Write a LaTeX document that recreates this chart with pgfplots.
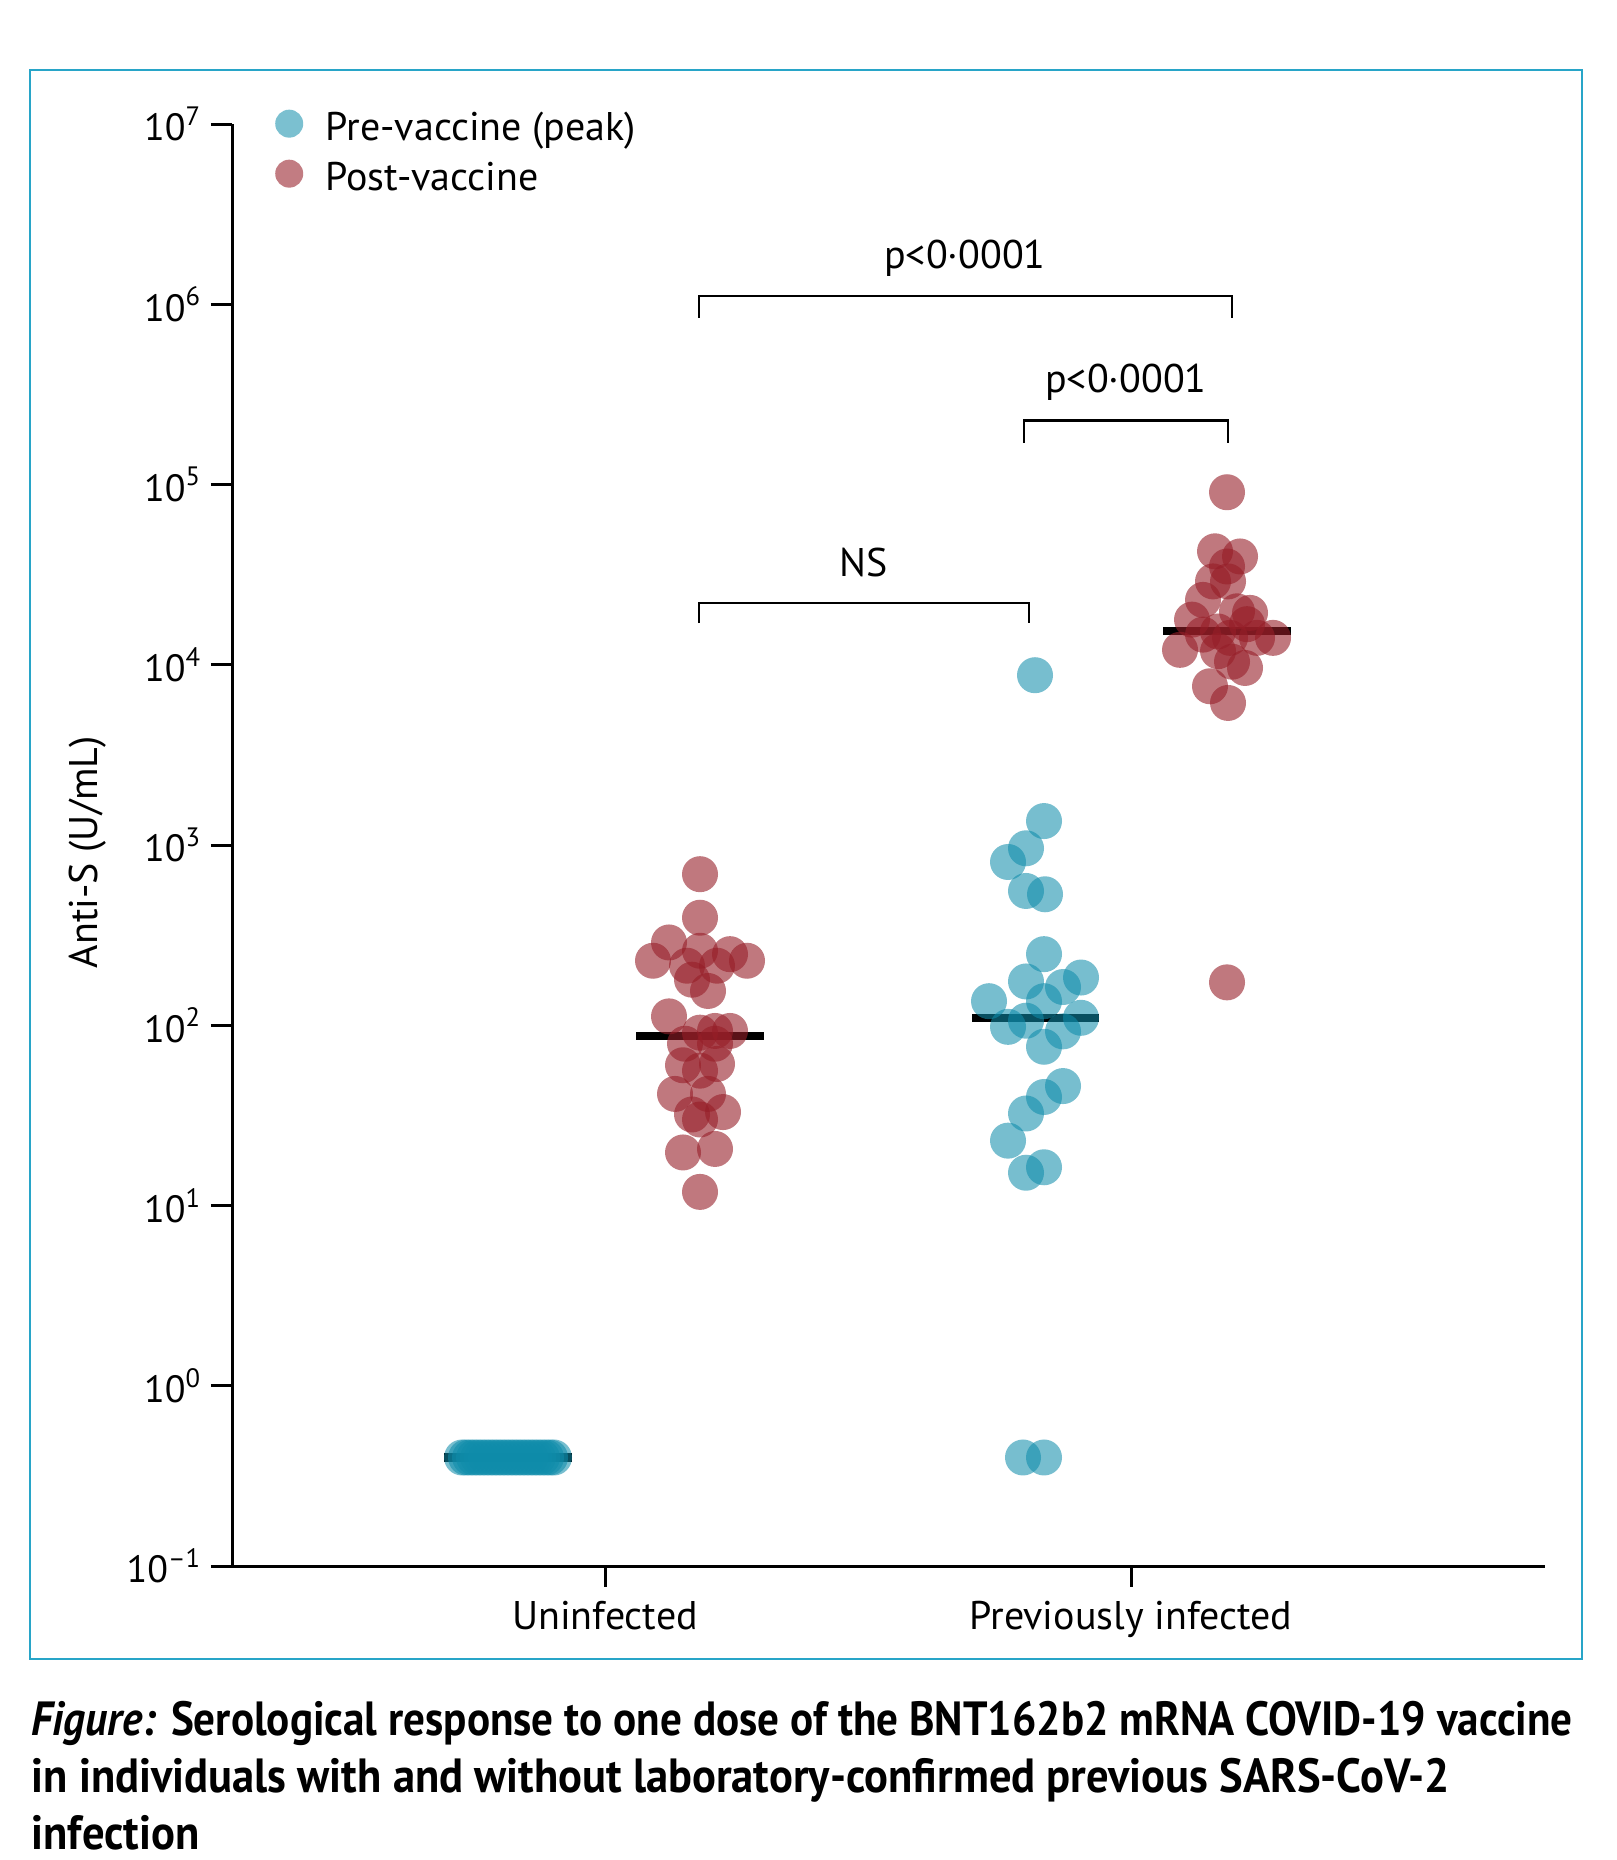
\documentclass[border=0pt]{standalone}
\usepackage{fontspec}
\setmainfont{PT Sans}
\usepackage{graphicx}
\usepackage{pgfplots}
\pgfplotsset{compat=1.18}
\definecolor{preteal}{RGB}{15,140,170}
\definecolor{postred}{RGB}{150,30,40}
\definecolor{framecol}{RGB}{40,165,200}

\begin{document}
\begin{tikzpicture}
\path (0,0) rectangle (404pt,-465pt);
\draw[framecol, line width=0.5pt] (7.5pt,-17.5pt) rectangle (395.5pt,-414.75pt);
\begin{axis}[
  at={(58pt,-391.5pt)}, anchor=south west,
  scale only axis, width=328.25pt, height=360.5pt,
  xmin=232, xmax=1545, ymin=0.1, ymax=1e7,
  ymode=log, log basis y=10,
  clip=false,
  axis x line*=bottom, axis y line*=left,
  axis line style={line width=0.75pt, -},
  tick style={line width=0.75pt, black},
  tick align=outside, major tick length=5.25pt,
  yminorticks=false,
  xtick={605,1131}, xticklabels={Uninfected, Previously infected},
  ytick={1e-1,1,10,100,1000,1e4,1e5,1e6,1e7},
  yticklabels={10\textsuperscript{–1},10\textsuperscript{0},10\textsuperscript{1},10\textsuperscript{2},10\textsuperscript{3},10\textsuperscript{4},10\textsuperscript{5},10\textsuperscript{6},10\textsuperscript{7}},
  yticklabel style={font=\fontsize{9.5}{11}\selectfont, xshift=1.3pt},
  xticklabel style={font=\fontsize{10}{12}\selectfont},
  label style={font=\fontsize{10}{12}\selectfont},
  ylabel={Anti-S (U/mL)},
  ylabel style={at={(axis description cs:-0.11,0.495)}, anchor=center},
  legend cell align=left,
  legend style={at={(0.0323,1.0105)}, anchor=north west, draw=none, fill=none,
    inner xsep=0pt, inner ysep=0pt, row sep=2.7pt,
    nodes={inner sep=0pt, text height=7pt, text depth=2pt, font=\fontsize{10}{12}\selectfont}},
]
\addlegendimage{legend image code/.code={\path[draw=none, fill=preteal, fill opacity=0.55] (3.5pt,1.8pt) circle (3.5pt); \path (12.4pt,0pt);}}
\addlegendentry{Pre-vaccine (peak)}
\addlegendimage{legend image code/.code={\path[draw=none, fill=postred, fill opacity=0.58] (3.5pt,1.8pt) circle (3.5pt); \path (12.4pt,0pt);}}
\addlegendentry{Post-vaccine}

% Uninfected, pre-vaccine
\addplot[only marks, color=preteal, mark=*, mark size=4.5pt, mark options={draw opacity=0, fill=preteal, fill opacity=0.57}, forget plot] table {
x y
462 0.4
466 0.4
470 0.4
474 0.4
478 0.4
482 0.4
486 0.4
490 0.4
494 0.4
498 0.4
502 0.4
506 0.4
510 0.4
514 0.4
518 0.4
522 0.4
526 0.4
530 0.4
534 0.4
538 0.4
542 0.4
546 0.4
550 0.4
554 0.4
};
% Uninfected, post-vaccine
\addplot[only marks, color=postred, mark=*, mark size=4.5pt, mark options={draw opacity=0, fill=postred, fill opacity=0.6}, forget plot] table {
x y
700 689
700 395
669 288
653 228
700 259
730 248
747 228
687 214
717 214
692 179
708 155
669 112
700 91
715 93
730 93
685 79
715 79
683 60
700 56
717 61
675 41.6
708 41.6
692 32
700 30
723 33
683 19.7
715 20.6
700 11.9
};
% Previously infected, pre-vaccine
\addplot[only marks, color=preteal, mark=*, mark size=4.5pt, mark options={draw opacity=0, fill=preteal, fill opacity=0.57}, forget plot] table {
x y
1035 8750
1044 1358
1026 959
1008 805
1026 556
1045 533
1044 248
1026 175
1081 184
989 136
1063 163
1044 136
1008 98
1026 106
1081 110
1063 92.5
1044 76
1063 46
1044 40
1026 32.4
1008 22.9
1026 15.2
1044 16.3
1023 0.4
1044 0.4
};
% Previously infected, post-vaccine
\addplot[only marks, color=postred, mark=*, mark size=4.5pt, mark options={draw opacity=0, fill=postred, fill opacity=0.6}, forget plot] table {
x y
1227 90600
1215 42600
1240 39900
1227 35100
1213 29000
1228 29000
1203 22900
1192 17800
1237 19800
1250 19400
1247 16800
1218 15300
1203 14700
1273 14100
1180 12100
1230 14100
1257 14100
1218 11900
1245 9600
1232 10400
1210 7600
1228 6140
1227 173
};
% mean bars
\addplot[black, line width=2.1pt, forget plot] coordinates {(444,0.4) (572,0.4)};
\addplot[black, line width=2.1pt, forget plot] coordinates {(636,87.5) (764,87.5)};
\addplot[black, line width=2.1pt, forget plot] coordinates {(972,110) (1099,110)};
\addplot[black, line width=2.1pt, forget plot] coordinates {(1163,15450) (1291,15450)};

% brackets
\draw[line width=0.6pt] (axis cs:699,841000) -- (axis cs:699,1114000) -- (axis cs:1232,1114000) -- (axis cs:1232,841000);
\node[font=\fontsize{10}{12}\selectfont] at (axis cs:965,1811000) {p<0·0001};
\draw[line width=0.6pt] (axis cs:1024,171000) -- (axis cs:1024,226500) -- (axis cs:1228,226500) -- (axis cs:1228,171000);
\node[font=\fontsize{10}{12}\selectfont] at (axis cs:1126,367000) {p<0·0001};
\draw[line width=0.6pt] (axis cs:699,17000) -- (axis cs:699,22030) -- (axis cs:1029,22030) -- (axis cs:1029,17000);
\node[font=\fontsize{10}{12}\selectfont] at (axis cs:864,37000) {NS};
\end{axis}

\node[anchor=base west, inner sep=0pt] at (7.7pt,-433.75pt) {\fontsize{12}{14}\selectfont\bfseries\resizebox{385.3pt}{\height}{\textit{Figure:} Serological response to one dose of the BNT162b2 mRNA COVID-19 vaccine}};
\node[anchor=base west, inner sep=0pt] at (7.7pt,-448pt) {\fontsize{12}{14}\selectfont\bfseries\resizebox{354.5pt}{\height}{in individuals with and without laboratory-confirmed previous SARS-CoV-2}};
\node[anchor=base west, inner sep=0pt] at (7.7pt,-462.25pt) {\fontsize{12}{14}\selectfont\bfseries\resizebox{42pt}{\height}{infection}};
\end{tikzpicture}
\end{document}
